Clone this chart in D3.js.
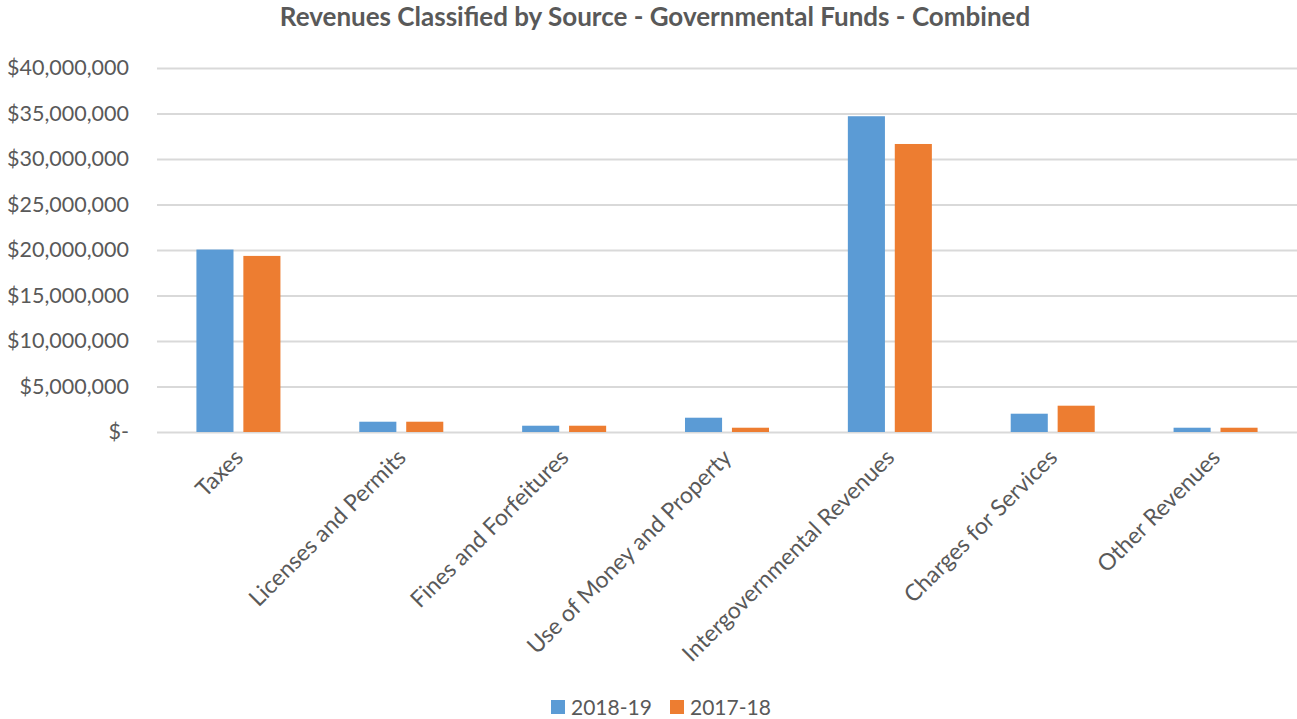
<!DOCTYPE html>
<html><head><meta charset="utf-8">
<script src="https://cdn.jsdelivr.net/npm/d3@7"></script>
<style>body{margin:0;background:#fff;} text{font-family:Lato,"Open Sans",sans-serif;}</style>
</head><body>
<svg id="c" width="1297" height="719"></svg>
<script>
const categories = ["Taxes","Licenses and Permits","Fines and Forfeitures","Use of Money and Property","Intergovernmental Revenues","Charges for Services","Other Revenues"];
const seriesNames = ["2018-19","2017-18"];
const values2018_19 = [20050000,1130000,690000,1570000,34700000,2010000,470000];
const values2017_18 = [19350000,1130000,690000,470000,31650000,2890000,470000];
const yTicks = [0,5000000,10000000,15000000,20000000,25000000,30000000,35000000,40000000];
const colors = ["#5b9bd5","#ed7d31"];

const svg = d3.select("#c");
const mLeft = 157, mRight = 1297, mTop = 68, mBottom = 432;
const x = d3.scaleBand().domain(categories).range([mLeft, mRight]).paddingInner(0).paddingOuter(0);
const xs = d3.scaleBand().domain(seriesNames).range([0, x.bandwidth()]).paddingInner(0.21).paddingOuter(0.84);
const y = d3.scaleLinear().domain([0, 40000000]).range([mBottom, mTop]);
const fmt = v => v === 0 ? "$-" : "$" + d3.format(",")(v);

svg.append("text").attr("x", 655).attr("y", 26).attr("text-anchor","middle")
  .attr("font-size", 26).attr("font-weight","bold").attr("fill","#595959")
  .text("Revenues Classified by Source - Governmental Funds - Combined");

const ya = svg.append("g").attr("transform", `translate(${mLeft},0)`)
  .call(d3.axisLeft(y).tickValues(yTicks).tickFormat(fmt).tickSize(-(mRight-mLeft)).tickPadding(28));
ya.select(".domain").remove();
ya.selectAll(".tick line").attr("stroke","#d9d9d9").attr("stroke-width",2);
ya.selectAll(".tick text").attr("font-size",21.5).attr("fill","#595959").attr("font-family","Lato, sans-serif");

const data = categories.map((c,i)=>({c, vals:[values2018_19[i], values2017_18[i]]}));
const g = svg.append("g");
data.forEach(d => {
  d.vals.forEach((v,j) => {
    g.append("rect").attr("x", x(d.c) + xs(seriesNames[j])).attr("width", xs.bandwidth())
      .attr("y", y(v)).attr("height", y(0) - y(v)).attr("fill", colors[j]);
  });
});

const xa = svg.append("g").attr("transform", `translate(0,${mBottom})`)
  .call(d3.axisBottom(x).tickSize(0));
xa.select(".domain").remove();
xa.selectAll(".tick text").attr("font-size",23).attr("fill","#595959").attr("font-family","Lato, sans-serif")
  .attr("text-anchor","end").attr("dy",0).attr("y",0)
  .attr("transform","translate(6,27) rotate(-45)");

const leg = svg.append("g");
const litems = [{n:seriesNames[0], c:colors[0], x:551},{n:seriesNames[1], c:colors[1], x:670}];
litems.forEach(l=>{
  leg.append("rect").attr("x", l.x).attr("y", 700).attr("width",14).attr("height",14).attr("fill",l.c);
  leg.append("text").attr("x", l.x+20).attr("y", 715).attr("font-size",21).attr("fill","#595959").text(l.n);
});
</script>
</body></html>
